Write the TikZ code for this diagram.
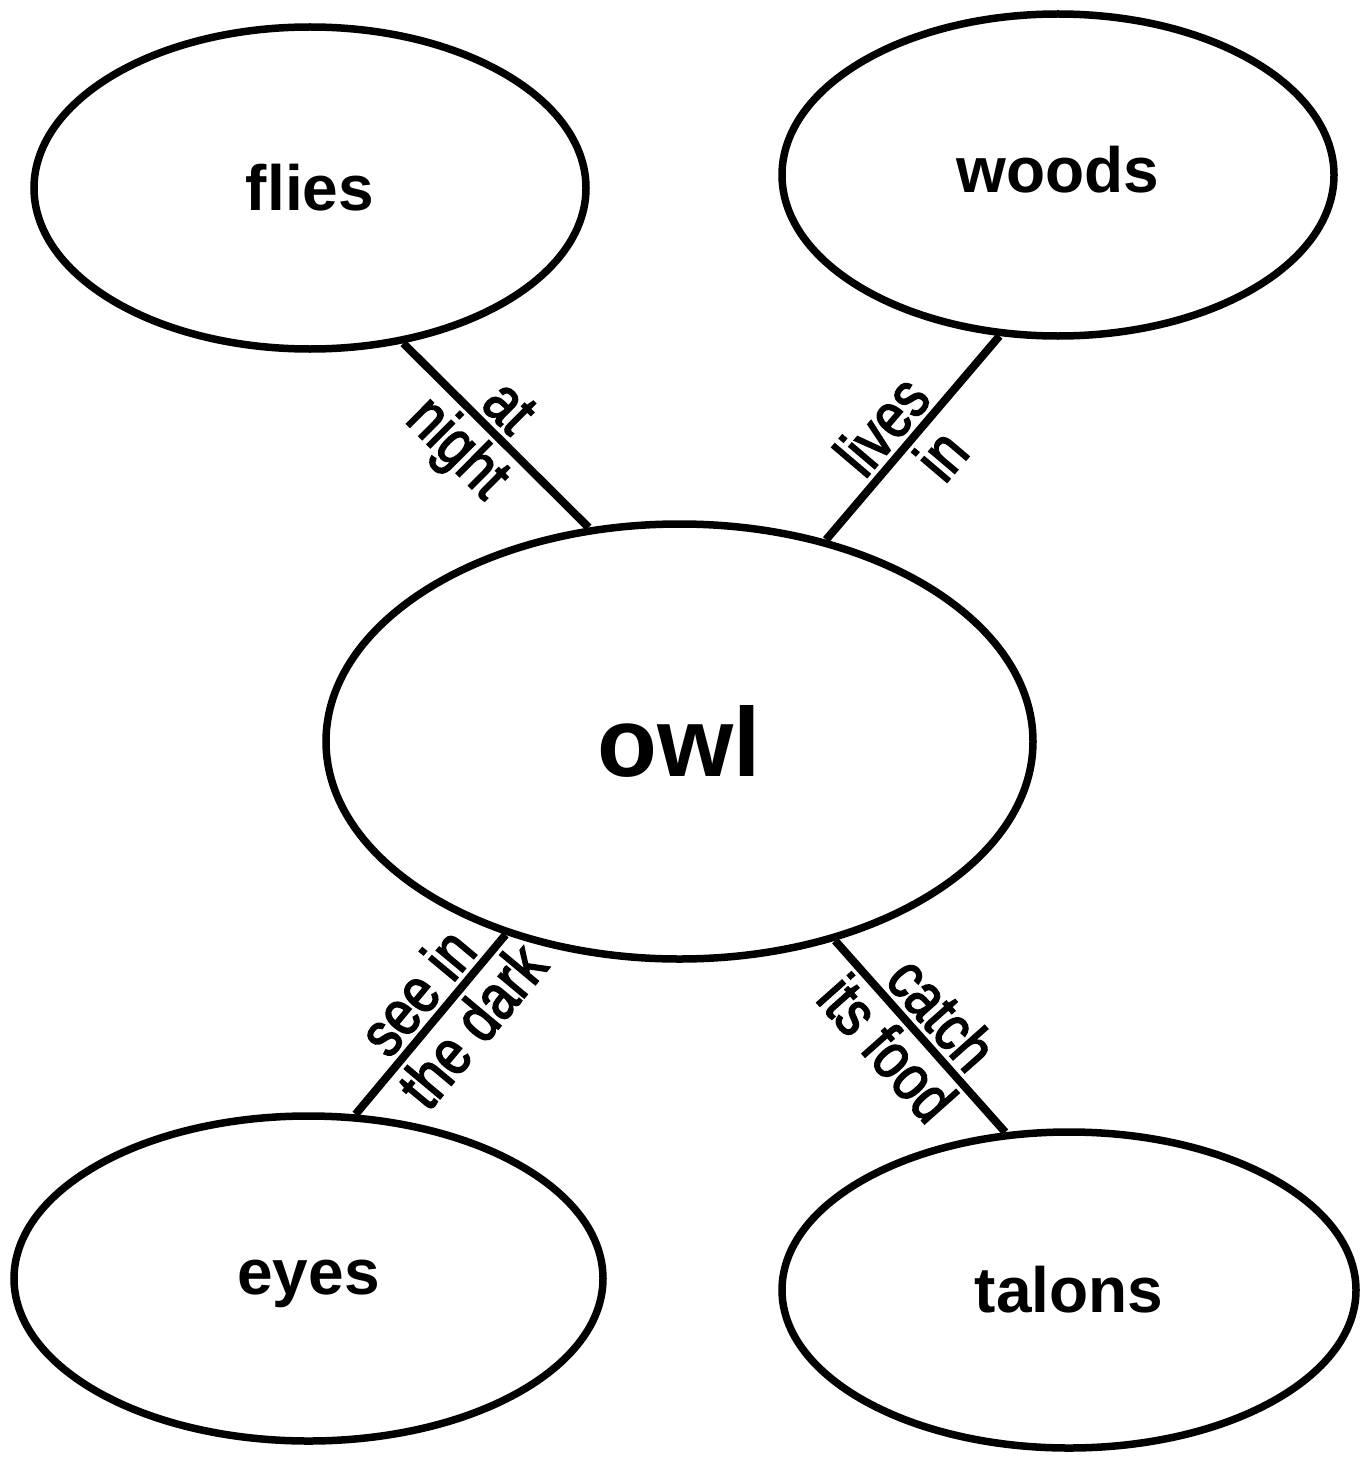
\documentclass[tikz,border=0pt]{standalone}
\usepackage{fontspec}
\setmainfont{Liberation Sans}
\newfontfamily\narrowfont[FakeStretch=0.82,FakeBold=2.5]{Liberation Sans}
\usetikzlibrary{shapes.geometric}
\begin{document}
\begin{tikzpicture}[x=1pt,y=-1pt,
  bubble/.style={ellipse, draw, line width=7.5pt, inner sep=0pt, font=\fontsize{64}{64}\selectfont\bfseries},
  link/.style={line width=8pt},
  lab/.style={sloped, font=\narrowfont\fontsize{64}{64}\selectfont, inner sep=4.5pt}]
\useasboundingbox (0,0) rectangle (1367,1458);
\node[bubble, minimum width=552pt, minimum height=322pt] (flies) at (310,188) {flies};
\node[bubble, minimum width=552pt, minimum height=322pt] (woods) at (1058,175) {\raisebox{5pt}[\height][\depth]{woods}};
\node[bubble, minimum width=707pt, minimum height=435pt, font=\fontsize{98}{98}\selectfont\bfseries] (owl) at (679.5,741.5) {owl};
\node[bubble, minimum width=589pt, minimum height=325pt] (eyes) at (308.5,1278.5) {\raisebox{-5pt}[\height][\depth]{eyes}};
\node[bubble, minimum width=574pt, minimum height=316pt] (talons) at (1069,1290) {talons};
\draw[link] (flies.-59) -- node[lab, pos=0.46, above]{at} node[lab, pos=0.43, below]{night} (owl.113);
\draw[link] (woods.-110) -- node[lab, pos=0.54, above]{lives} node[lab, pos=0.48, below]{in} (owl.54);
\draw[link] (owl.-132.6) -- node[lab, pos=0.43, above]{see in} node[lab, pos=0.39, below]{the dark} (eyes.74);
\draw[link] (owl.-52) -- node[lab, pos=0.49, above]{catch} node[lab, pos=0.45, below]{its food} (talons.112);
\end{tikzpicture}
\end{document}
